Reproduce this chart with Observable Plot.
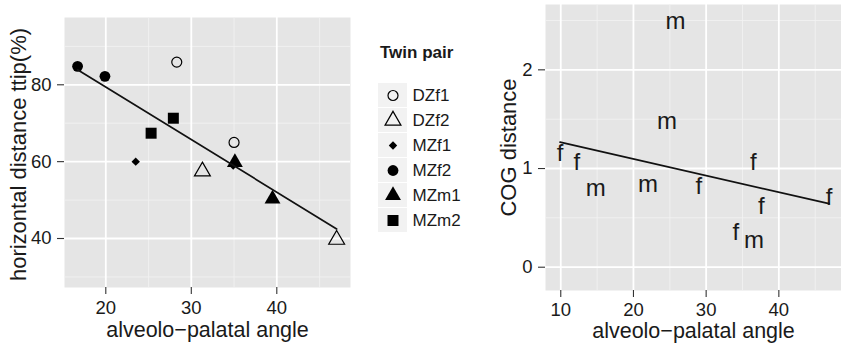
<!DOCTYPE html>
<html>
<head>
<meta charset="utf-8">
<script src="https://cdn.jsdelivr.net/npm/d3@7"></script>
<script src="https://cdn.jsdelivr.net/npm/@observablehq/plot@0.6"></script>
<style>
  html, body { margin: 0; padding: 0; background: #fff; }
  #chart { position: relative; width: 841px; height: 344px; overflow: hidden; font-family: "Liberation Sans", Arial, sans-serif; }
  #chart > * { position: absolute; }
  #legend-title { left: 380px; top: 44px; font-size: 17px; font-weight: bold; line-height: 17px; color: #1a1a1a; }
</style>
</head>
<body>
<div id="chart"></div>
<script>
// ---- Left panel data (twin pairs) ----
const leftPair  = ["MZf2","MZf2","DZf1","DZf1","MZm2","MZm2","MZf1","MZf1","DZf2","DZf2","MZm1","MZm1"];
const leftAngle = [16.7, 19.9, 28.3, 35.0, 25.3, 27.9, 23.5, 34.9, 31.3, 47.0, 35.1, 39.5];
const leftDist  = [84.8, 82.2, 85.9, 65.0, 67.4, 71.3, 60.0, 59.0, 57.5, 39.7, 59.8, 50.3];

// ---- Right panel data (sex labels) ----
const rightSex   = ["m","m","f","f","m","m","f","f","f","f","f","m"];
const rightAngle = [25.8, 24.6, 9.9, 12.2, 14.8, 22.0, 29.0, 36.5, 37.6, 46.9, 34.1, 36.6];
const rightCog   = [2.49, 1.48, 1.15, 1.06, 0.80, 0.84, 0.82, 1.06, 0.62, 0.71, 0.35, 0.27];

// ---- Legend / ticks ----
const pairOrder = ["DZf1","DZf2","MZf1","MZf2","MZm1","MZm2"];
const leftXTicks = [20, 30, 40];
const leftXMinor = [25, 35, 45];
const leftYTicks = [40, 60, 80];
const leftYMinor = [30, 50, 70, 90];
const rightXTicks = [10, 20, 30, 40];
const rightXMinor = [15, 25, 35, 45];
const rightYTicks = [0, 1, 2];
const rightYMinor = [0.5, 1.5, 2.5];
const xTitle = "alveolo\u2212palatal angle";
const leftYTitle = "horizontal distance ttip(%)";
const rightYTitle = "COG distance";
const legendTitle = "Twin pair";

// ---- styles ----
const FONT = "'Liberation Sans', Arial, sans-serif";
const INK = "#1a1a1a";
const PANEL = "#E5E5E5";
const MINOR = "#F2F2F2";
const TICK_FONT = 18.5;
const symbolRange = ["circle", "triangle", "diamond2", "circle", "triangle", "square"];
const openPairs = new Set(["DZf1", "DZf2"]);
const rOf = {DZf1: 5.0, DZf2: 5.9, MZf1: 3.8, MZf2: 5.4, MZm1: 5.9, MZm2: 6.2};
const plainNum = d => String(d);

const leftData = leftPair.map((p, i) => ({pair: p, angle: leftAngle[i], dist: leftDist[i]}));
const rightData = rightSex.map((s, i) => ({sex: s, angle: rightAngle[i], cog: rightCog[i]}));

function gridMarks(xMajor, xMinor, yMajor, yMinor) {
  return [
    Plot.frame({fill: PANEL, stroke: null}),
    Plot.gridX(xMinor, {stroke: MINOR, strokeOpacity: 1, strokeWidth: 0.9}),
    Plot.gridY(yMinor, {stroke: MINOR, strokeOpacity: 1, strokeWidth: 0.9}),
    Plot.gridX(xMajor, {stroke: "#ffffff", strokeOpacity: 1, strokeWidth: 1.8}),
    Plot.gridY(yMajor, {stroke: "#ffffff", strokeOpacity: 1, strokeWidth: 1.8})
  ];
}
function axisMarks(xt, yt, xPad) {
  return [
    Plot.axisX(xt, {tickSize: 7, tickPadding: xPad, fontSize: TICK_FONT, stroke: "#333", fill: INK, strokeWidth: 1.1, label: null, tickFormat: plainNum}),
    Plot.axisY(yt, {tickSize: 7, tickPadding: 6, fontSize: TICK_FONT, stroke: "#333", fill: INK, strokeWidth: 1.1, label: null, tickFormat: plainNum})
  ];
}
function enlargeTickLabels(svg) {
  d3.select(svg).selectAll('g[aria-label$="tick label"]').attr("font-size", TICK_FONT)
    .selectAll("text").attr("font-size", TICK_FONT);
}

const chart = document.getElementById("chart");

// ---- Left panel ----
const left = Plot.plot({
  width: 360, height: 344,
  marginLeft: 64, marginRight: 10, marginTop: 17, marginBottom: 57,
  style: {fontFamily: FONT, fontSize: "18px", background: "transparent", overflow: "visible"},
  x: {domain: [15.17, 48.62]},
  y: {domain: [27.25, 97.51]},
  symbol: {domain: pairOrder, range: symbolRange},
  r: {type: "identity"},
  marks: [
    ...gridMarks(leftXTicks, leftXMinor, leftYTicks, leftYMinor),
    ...axisMarks(leftXTicks, leftYTicks, 6.5),
    Plot.text([xTitle], {frameAnchor: "bottom", textAnchor: "middle", lineAnchor: "middle", dy: 42.5, text: d => d, fontSize: 21.5, fill: INK}),
    Plot.text([leftYTitle], {frameAnchor: "left", textAnchor: "middle", lineAnchor: "middle", rotate: -90, dx: -46, dy: 2, text: d => d, fontSize: 22, fill: INK}),
    Plot.dot(leftData.filter(d => openPairs.has(d.pair)), {x: "angle", y: "dist", symbol: "pair", r: d => rOf[d.pair], fill: "none", stroke: "#000", strokeWidth: 1.2}),
    Plot.dot(leftData.filter(d => !openPairs.has(d.pair)), {x: "angle", y: "dist", symbol: "pair", r: d => rOf[d.pair], fill: "#000", stroke: "none"}),
    Plot.linearRegressionY(leftData, {x: "angle", y: "dist", ci: 0, stroke: "#111", strokeWidth: 1.7})
  ]
});
enlargeTickLabels(left);
left.style.left = "0px"; left.style.top = "0px";
chart.appendChild(left);

// ---- Legend ----
const title = document.createElement("div");
title.id = "legend-title";
title.textContent = legendTitle;
chart.appendChild(title);

const legend = Plot.plot({
  width: 110, height: 153,
  marginLeft: 0, marginRight: 0, marginTop: 0, marginBottom: 0,
  style: {fontFamily: FONT, fontSize: "17px", background: "transparent", overflow: "visible"},
  x: {type: "band", domain: ["key"], range: [17.3, 46.7], padding: 0, axis: null},
  y: {type: "band", domain: pairOrder, paddingInner: 0.05, paddingOuter: 0.0, axis: null},
  symbol: {domain: pairOrder, range: symbolRange},
  r: {type: "identity"},
  marks: [
    Plot.cell(pairOrder, {x: () => "key", y: d => d, fill: MINOR, inset: 0}),
    Plot.dot(pairOrder.filter(p => openPairs.has(p)), {x: () => "key", y: d => d, symbol: d => d, r: d => rOf[d], fill: "none", stroke: "#000", strokeWidth: 1.2}),
    Plot.dot(pairOrder.filter(p => !openPairs.has(p)), {x: () => "key", y: d => d, symbol: d => d, r: d => rOf[d], fill: "#000", stroke: "none"}),
    Plot.text(pairOrder, {x: () => "key", y: d => d, text: d => d, textAnchor: "start", dx: 19.5, fontSize: 17, fill: INK})
  ]
});
legend.style.left = "360px"; legend.style.top = "80.5px";
chart.appendChild(legend);

// ---- Right panel ----
const right = Plot.plot({
  width: 361, height: 344,
  marginLeft: 65, marginRight: 0, marginTop: 4, marginBottom: 54,
  style: {fontFamily: FONT, fontSize: "18px", background: "transparent", overflow: "visible"},
  x: {domain: [7.9, 48.62]},
  y: {domain: [-0.236, 2.662]},
  marks: [
    ...gridMarks(rightXTicks, rightXMinor, rightYTicks, rightYMinor),
    ...axisMarks(rightXTicks, rightYTicks, 5),
    Plot.text([xTitle], {frameAnchor: "bottom", textAnchor: "middle", lineAnchor: "middle", dy: 40.5, text: d => d, fontSize: 21.5, fill: INK}),
    Plot.text([rightYTitle], {frameAnchor: "left", textAnchor: "middle", lineAnchor: "middle", rotate: -90, dx: -37, text: d => d, fontSize: 22, fill: INK}),
    Plot.text(rightData, {x: "angle", y: "cog", text: "sex", fontSize: 24, fill: INK, lineAnchor: "middle"}),
    Plot.linearRegressionY(rightData, {x: "angle", y: "cog", ci: 0, stroke: "#111", strokeWidth: 1.7})
  ]
});
enlargeTickLabels(right);
right.style.left = "480px"; right.style.top = "0px";
chart.appendChild(right);
</script>
</body>
</html>
